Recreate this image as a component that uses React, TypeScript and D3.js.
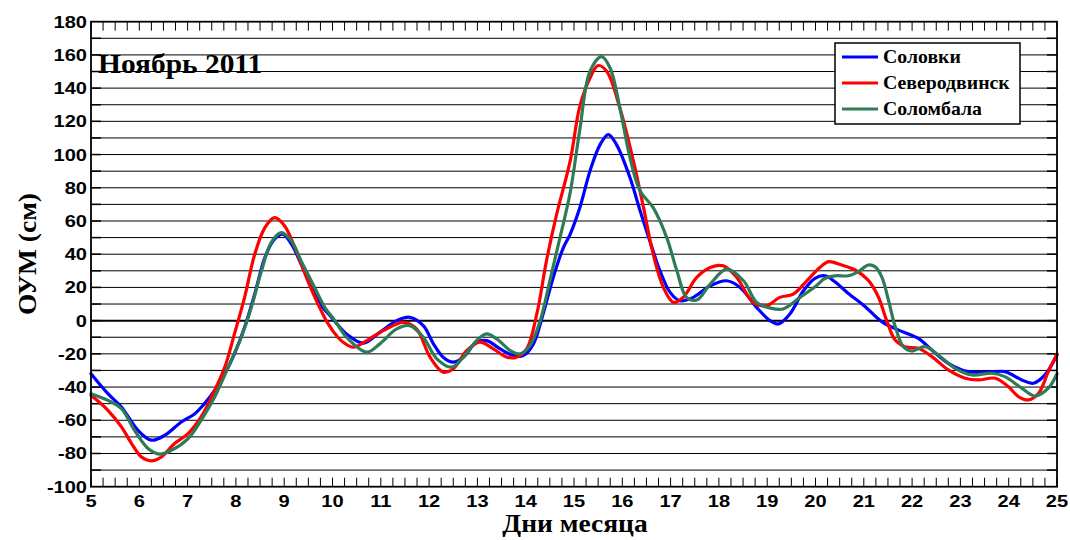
import React from "react";
import * as d3 from "d3";

// Days of month (x) and sea level anomaly (cm) for each station
const solovkiDays = [5, 5.35, 5.63, 5.97, 6.25, 6.53, 6.87, 7.15, 7.35, 7.56, 7.77, 7.97, 8.18, 8.39, 8.6, 8.8, 8.97, 9.15, 9.35, 9.56, 9.77, 9.95, 10.29, 10.64, 10.98, 11.33, 11.6, 11.88, 12.09, 12.29, 12.5, 12.71, 12.98, 13.19, 13.47, 13.74, 13.95, 14.16, 14.36, 14.57, 14.78, 14.92, 15.12, 15.33, 15.54, 15.71, 15.88, 16.16, 16.37, 16.57, 16.78, 16.99, 17.19, 17.47, 17.82, 18.16, 18.44, 18.78, 19.06, 19.23, 19.47, 19.75, 19.99, 20.2, 20.4, 20.68, 21.03, 21.37, 21.72, 22.13, 22.41, 22.75, 23.16, 23.58, 23.92, 24.27, 24.51, 24.75, 25];
const solovkiValues = [-32, -44, -52, -66, -72, -69, -61, -56, -50, -42, -32, -20, -4, 16, 38, 49, 52, 46, 34, 20, 9, 3, -8, -13.6, -7, 0, 2, -3, -14, -22, -25, -22, -13, -12, -17, -21, -21, -14, 4, 26, 44, 52, 68, 90, 106, 112, 106, 86, 66, 48, 30, 17, 12, 14, 21, 24, 20, 8, 0, -2, 4, 18, 25.5, 27, 23.4, 16.4, 8.4, -0.6, -5.7, -10.7, -17.7, -25.7, -30.7, -31, -30.7, -35.7, -37.7, -32.7, -20.5];

const severodvinskDays = [5, 5.35, 5.63, 5.84, 6.04, 6.25, 6.46, 6.73, 7.01, 7.28, 7.56, 7.77, 7.97, 8.18, 8.39, 8.6, 8.8, 9.01, 9.22, 9.49, 9.7, 9.91, 10.11, 10.22, 10.43, 10.71, 11.05, 11.47, 11.74, 12.02, 12.29, 12.5, 12.78, 13.05, 13.33, 13.61, 13.81, 14.02, 14.23, 14.43, 14.64, 14.92, 15.12, 15.33, 15.5, 15.68, 15.95, 16.23, 16.44, 16.64, 16.85, 17.06, 17.26, 17.54, 17.82, 18.09, 18.37, 18.71, 18.99, 19.26, 19.54, 19.82, 20.09, 20.27, 20.54, 20.82, 21.09, 21.3, 21.47, 21.65, 21.85, 22.13, 22.41, 22.75, 23.1, 23.37, 23.72, 23.99, 24.2, 24.41, 24.62, 24.82, 25];
const severodvinskValues = [-45, -54, -64, -74, -82, -84.4, -82, -74, -68, -58, -42, -28, -8, 14, 40, 56, 62, 57, 44, 24, 10, -2, -10, -13, -16, -12, -6, -1, -5, -22, -31, -29, -18, -13, -17, -22, -22, -17, 4, 36, 64, 96, 129, 146, 153.6, 150, 128, 96, 68, 40, 20, 11, 14, 26, 32, 33, 26, 11, 9, 14, 16, 24, 32, 35.5, 33.5, 30.5, 24.4, 14.4, 0.4, -11.7, -15.7, -16.7, -21.7, -29.7, -34.7, -35.7, -34.7, -39.7, -45.7, -47.7, -43.7, -30.7, -20];

const solombalaDays = [5, 5.35, 5.63, 5.9, 6.18, 6.42, 6.67, 7.01, 7.28, 7.56, 7.84, 8.11, 8.32, 8.53, 8.73, 8.94, 9.15, 9.35, 9.63, 9.84, 10.05, 10.29, 10.71, 10.98, 11.33, 11.6, 11.88, 12.16, 12.47, 12.71, 12.98, 13.19, 13.4, 13.68, 13.88, 14.09, 14.3, 14.5, 14.71, 14.92, 15.12, 15.33, 15.57, 15.75, 15.95, 16.16, 16.37, 16.64, 16.92, 17.13, 17.33, 17.54, 17.82, 18.16, 18.51, 18.78, 19.06, 19.33, 19.68, 19.99, 20.2, 20.4, 20.68, 20.89, 21.09, 21.23, 21.37, 21.51, 21.65, 21.82, 21.99, 22.27, 22.54, 22.89, 23.23, 23.65, 23.92, 24.27, 24.55, 24.82, 25];
const solombalaValues = [-44, -48, -53, -66, -77, -80.4, -78, -71, -60, -46, -28, -10, 8, 30, 47, 53, 48, 36, 20, 8, 0, -10, -19, -14, -5, -3, -10, -23, -28, -22, -12, -8, -11, -18, -20, -15, 0, 24, 50, 77, 115, 150, 159, 152, 128, 98, 78, 68, 50, 30, 14, 12.4, 22, 31, 24, 11, 7.6, 7, 14, 20.4, 25.5, 27, 27, 29.5, 33.5, 32.5, 26.5, 12.4, -3.6, -15.7, -18.3, -15.7, -20.7, -28.7, -32.7, -31.7, -33.7, -40.7, -45.4, -40.7, -32];

const seriesNames = ["Соловки", "Северодвинск", "Соломбала"];
const seriesColors = ["#0000ff", "#ff0000", "#2e7b57"];

const xTickLabels = [5, 6, 7, 8, 9, 10, 11, 12, 13, 14, 15, 16, 17, 18, 19, 20, 21, 22, 23, 24, 25];
const yTickLabels = [-100, -80, -60, -40, -20, 0, 20, 40, 60, 80, 100, 120, 140, 160, 180];

const titleText = "Ноябрь 2011";
const xAxisTitle = "Дни месяца";
const yAxisTitle = "ОУМ (см)";

const W = 1070;
const H = 540;
const left = 91;
const right = 1057;
const top = 21.7;
const bottom = 486.7;

export default function App() {
  const x = d3.scaleLinear().domain([5, 25]).range([left, right]);
  const y = d3.scaleLinear().domain([-100, 180]).range([bottom, top]);

  const series = [
    { days: solovkiDays, values: solovkiValues },
    { days: severodvinskDays, values: severodvinskValues },
    { days: solombalaDays, values: solombalaValues },
  ];

  const line = d3
    .line<[number, number]>()
    .x((d) => x(d[0]))
    .y((d) => y(d[1]))
    .curve(d3.curveCatmullRom.alpha(0.5));

  const gridVals = d3.range(-90, 180, 10);
  const minorX = d3.range(0, 81).map((i) => 5 + i * 0.25);

  const sansFont = "'Liberation Sans', Arial, sans-serif";
  const serifFont = "'Liberation Serif', 'Times New Roman', serif";

  return (
    <svg
      width={W}
      height={H}
      style={{ position: "absolute", left: 0, top: 0, background: "#fff" }}
    >
      <rect x={0} y={0} width={W} height={H} fill="#fff" />
      {/* horizontal gridlines */}
      {gridVals.map((v) => (
        <line
          key={"g" + v}
          x1={left}
          x2={right}
          y1={y(v)}
          y2={y(v)}
          stroke="#000"
          strokeWidth={v === 0 ? 2 : 1}
        />
      ))}
      {/* y ticks left and right */}
      {gridVals.map((v) => (
        <g key={"yt" + v}>
          <line x1={left} x2={left + 10} y1={y(v)} y2={y(v)} stroke="#000" strokeWidth={1.5} />
          <line x1={right - 10} x2={right} y1={y(v)} y2={y(v)} stroke="#000" strokeWidth={1.5} />
        </g>
      ))}
      {/* x minor ticks top and bottom */}
      {minorX.map((d) => (
        <g key={"xt" + d}>
          <line x1={x(d)} x2={x(d)} y1={top} y2={top + 9} stroke="#000" strokeWidth={1} />
          <line x1={x(d)} x2={x(d)} y1={bottom} y2={bottom - 9} stroke="#000" strokeWidth={1} />
        </g>
      ))}
      {/* data lines */}
      {series.map((s, i) => (
        <path
          key={"s" + i}
          d={line(s.days.map((d, j) => [d, s.values[j]] as [number, number])) || ""}
          fill="none"
          stroke={seriesColors[i]}
          strokeWidth={3.2}
          strokeLinejoin="round"
          strokeLinecap="round"
        />
      ))}
      {/* frame */}
      <rect
        x={left}
        y={top}
        width={right - left}
        height={bottom - top}
        fill="none"
        stroke="#000"
        strokeWidth={1.8}
      />
      {/* y tick labels */}
      {yTickLabels.map((v) => (
        <text
          key={"yl" + v}
          transform={`translate(${left - 4},${y(v) + 6}) scale(1.18,1)`}
          textAnchor="end"
          fontFamily={sansFont}
          fontWeight="bold"
          fontSize={17}
          fill="#000"
        >
          {v}
        </text>
      ))}
      {/* x tick labels */}
      {xTickLabels.map((v) => (
        <text
          key={"xl" + v}
          transform={`translate(${x(v)},${bottom + 20.5}) scale(1.18,1)`}
          textAnchor="middle"
          fontFamily={sansFont}
          fontWeight="bold"
          fontSize={17}
          fill="#000"
        >
          {v}
        </text>
      ))}
      {/* title */}
      <text
        transform={`translate(98,73) scale(1.09,1)`}
        fontFamily={serifFont}
        fontWeight="bold"
        fontSize={27}
        fill="#000"
      >
        {titleText}
      </text>
      {/* axis titles */}
      <text
        transform={`translate(575,532) scale(1.1,1)`}
        textAnchor="middle"
        fontFamily={serifFont}
        fontWeight="bold"
        fontSize={25}
        fill="#000"
      >
        {xAxisTitle}
      </text>
      <text
        transform={`translate(36,254) rotate(-90) scale(1.1,1)`}
        textAnchor="middle"
        fontFamily={serifFont}
        fontWeight="bold"
        fontSize={25}
        fill="#000"
      >
        {yAxisTitle}
      </text>
      {/* legend */}
      <g>
        <rect x={835} y={43} width={185} height={81} fill="#fff" stroke="#000" strokeWidth={1.5} />
        {seriesNames.map((n, i) => (
          <g key={"lg" + i}>
            <line
              x1={842}
              x2={878}
              y1={57 + i * 26}
              y2={57 + i * 26}
              stroke={seriesColors[i]}
              strokeWidth={3.2}
            />
            <text
              transform={`translate(883,${63 + i * 26}) scale(1.1,1)`}
              fontFamily={serifFont}
              fontWeight="bold"
              fontSize={18}
              fill="#000"
            >
              {n}
            </text>
          </g>
        ))}
      </g>
    </svg>
  );
}
